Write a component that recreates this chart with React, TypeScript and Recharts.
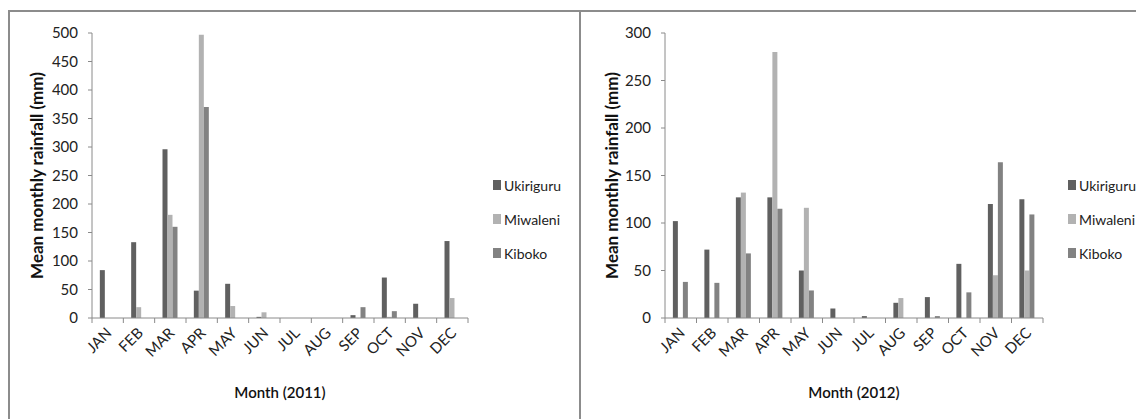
import React from "react";
import {
  BarChart, Bar, XAxis, YAxis, Legend, Label,
} from "recharts";

const MONTHS = ["JAN", "FEB", "MAR", "APR", "MAY", "JUN", "JUL", "AUG", "SEP", "OCT", "NOV", "DEC"];
const STATIONS = ["Ukiriguru", "Miwaleni", "Kiboko"];
const COLORS = ["#606060", "#b2b2b2", "#828282"];

const UKIRIGURU_2011 = [84, 133, 296, 48, 60, 2, 0, 0, 5, 71, 25, 135];
const MIWALENI_2011 = [0, 19, 181, 497, 21, 10, 0, 0, 0, 2, 0, 35];
const KIBOKO_2011 = [0, 0, 160, 370, 0, 0, 0, 0, 19, 12, 0, 0];

const UKIRIGURU_2012 = [102, 72, 127, 127, 50, 10, 2, 16, 22, 57, 120, 125];
const MIWALENI_2012 = [0, 0, 132, 280, 116, 0, 0, 21, 0, 0, 45, 50];
const KIBOKO_2012 = [38, 37, 68, 115, 29, 0, 0, 0, 2, 27, 164, 109];

const TICKS_2011 = [0, 50, 100, 150, 200, 250, 300, 350, 400, 450, 500];
const TICKS_2012 = [0, 50, 100, 150, 200, 250, 300];

const FONT = "Lato, 'Noto Sans', sans-serif";
const AXIS = "#8a8a8a";
const LEGEND_W = 90;

function buildRows(a: number[], b: number[], c: number[]) {
  return MONTHS.map((m, i) => ({ month: m, Ukiriguru: a[i], Miwaleni: b[i], Kiboko: c[i] }));
}

// month label plus the tick marks that sit on the category edges
const MonthTick = (props: any) => {
  const { x, y, payload, width, visibleTicksCount, index } = props;
  const half = width / visibleTicksCount / 2;
  const tx = x + 5;
  const ty = y + 16;
  return (
    <g>
      <line x1={x - half} y1={y} x2={x - half} y2={y + 5} stroke={AXIS} />
      {index === visibleTicksCount - 1 && (
        <line x1={x + half} y1={y} x2={x + half} y2={y + 5} stroke={AXIS} />
      )}
      <text
        x={tx}
        y={ty}
        textAnchor="end"
        transform={`rotate(-45, ${tx}, ${ty})`}
        fontSize={15}
        fontFamily={FONT}
        fill="#222"
      >
        {payload.value}
      </text>
    </g>
  );
};

const LegendBox = (props: any) => {
  const items = [...(props.payload || [])].sort(
    (a: any, b: any) => STATIONS.indexOf(a.value) - STATIONS.indexOf(b.value)
  );
  return (
    <div style={{ fontFamily: FONT, fontSize: 14, color: "#222" }}>
      {items.map((p: any) => (
        <div key={p.value} style={{ display: "flex", alignItems: "center", height: 34 }}>
          <span style={{ width: 8, height: 10, background: p.color, marginRight: 3, display: "inline-block" }} />
          <span>{p.value}</span>
        </div>
      ))}
    </div>
  );
};

interface PanelProps {
  rows: any[];
  ticks: number[];
  max: number;
  year: string;
  width: number;
  right: number;
  yWidth: number;
  legendLeft: number;
  labelX: number;
}

function Panel({ rows, ticks, max, year, width, right, yWidth, legendLeft, labelX }: PanelProps) {
  return (
    <BarChart
      width={width}
      height={400}
      data={rows}
      margin={{ top: 23, right: right - LEGEND_W, left: 0, bottom: 0 }}
      barCategoryGap="25%"
      barGap={0}
    >
      <XAxis
        dataKey="month"
        interval={0}
        tickLine={false}
        tickSize={0}
        tickMargin={0}
        stroke={AXIS}
        height={92}
        tick={<MonthTick />}
      >
        <Label
          content={({ viewBox }: any) => (
            <text
              x={viewBox.x + viewBox.width / 2}
              y={viewBox.y + 80}
              textAnchor="middle"
              fontSize={15}
              fontWeight={600}
              fontFamily={FONT}
              fill="#111"
            >
              {`Month (${year})`}
            </text>
          )}
        />
      </XAxis>
      <YAxis
        domain={[0, max]}
        ticks={ticks}
        interval={0}
        width={yWidth}
        tickSize={4}
        tickMargin={10}
        stroke={AXIS}
        tick={{ fontSize: 15, fontFamily: FONT, fill: "#222" }}
      >
        <Label
          content={({ viewBox }: any) => {
            const cx = viewBox.x + labelX;
            const cy = viewBox.y + viewBox.height / 2;
            return (
              <text
                x={cx}
                y={cy}
                textAnchor="middle"
                dominantBaseline="central"
                transform={`rotate(-90, ${cx}, ${cy})`}
                fontSize={17}
                fontWeight={700}
                fontFamily={FONT}
                fill="#111"
              >
                Mean monthly rainfall (mm)
              </text>
            );
          }}
        />
      </YAxis>
      <Legend
        layout="vertical"
        align="right"
        verticalAlign="middle"
        content={<LegendBox />}
        wrapperStyle={{ left: legendLeft, top: 158, width: LEGEND_W }}
      />
      {STATIONS.map((s, i) => (
        <Bar key={s} dataKey={s} name={s} fill={COLORS[i]} isAnimationActive={false} />
      ))}
    </BarChart>
  );
}

export default function App() {
  const rows2011 = buildRows(UKIRIGURU_2011, MIWALENI_2011, KIBOKO_2011);
  const rows2012 = buildRows(UKIRIGURU_2012, MIWALENI_2012, KIBOKO_2012);

  return (
    <div style={{ position: "relative", width: 1136, height: 411, overflow: "hidden", background: "#fff" }}>
      <div
        style={{
          position: "absolute", left: 0, top: 2, width: 569, height: 420,
          borderTop: "2px solid #8c8c8c", borderLeft: "2px solid #8c8c8c", borderRight: "2px solid #8c8c8c",
        }}
      >
        <div style={{ position: "absolute", left: -2, top: -2 }}>
          <Panel rows={rows2011} ticks={TICKS_2011} max={500} year="2011" width={572} right={112} yWidth={84} legendLeft={485} labelX={28} />
        </div>
      </div>
      <div
        style={{
          position: "absolute", left: 573, top: 2, width: 570, height: 420,
          borderTop: "2px solid #8c8c8c",
        }}
      >
        <div style={{ position: "absolute", left: -1, top: -2 }}>
          <Panel rows={rows2012} ticks={TICKS_2012} max={300} year="2012" width={564} right={101} yWidth={85} legendLeft={488} labelX={31} />
        </div>
      </div>
    </div>
  );
}
